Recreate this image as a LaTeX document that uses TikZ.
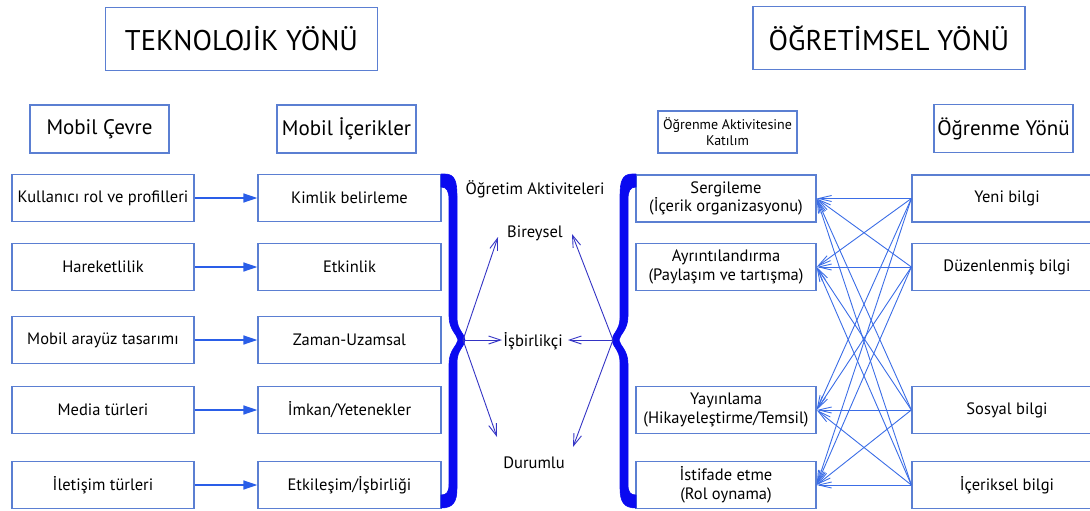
\documentclass[tikz,border=0pt]{standalone}
\usepackage{fontspec}
\setmainfont{PT Sans}
\usetikzlibrary{arrows.meta}
\definecolor{boxc}{HTML}{5B7FD2}
\definecolor{arrc}{HTML}{2A5EE8}
\definecolor{bracec}{HTML}{0A0AF0}
\definecolor{actc}{HTML}{3434C4}
\definecolor{linkc}{HTML}{3B6DE6}
\tikzset{
  box/.style={draw=boxc, line width=1.3pt, inner sep=0pt, align=center, minimum height=47pt, font=\fontsize{16.5}{18.5}\selectfont},
  head/.style={box, minimum height=48pt, minimum width=139pt, font=\fontsize{21}{23}\selectfont},
  title/.style={box, minimum height=63pt, minimum width=272pt, font=\fontsize{28.5}{30}\selectfont},
  lbl/.style={inner sep=0pt, font=\fontsize{16.5}{18}\selectfont},
  feed/.style={-{Triangle[length=14pt,width=9pt]}, arrc, line width=1.6pt},
  brc/.style={fill=bracec, draw=bracec, line width=0.6pt, line join=round},
  act/.style={-{Straight Barb[length=12pt,width=8pt]}, actc, line width=0.9pt},
  link/.style={-{Straight Barb[length=13pt,width=6pt]}, linkc, line width=0.9pt}
}
\newcommand{\mybracepath}{(441,174) -- (445,174) .. controls (455,174) and (457,182) .. (457,196) -- (457,318) .. controls (457,330) and (465,334) .. (465,340) .. controls (465,346) and (457,350) .. (457,362) -- (457,488) .. controls (457,502) and (453,508) .. (441,508) -- (441,495) .. controls (447,495) and (449,492) .. (449,484) -- (449,364) .. controls (449,350) and (457,346) .. (458,340) .. controls (457,334) and (449,330) .. (449,316) -- (449,200) .. controls (449,191) and (447,187) .. (441,187) -- cycle}
\begin{document}
\begin{tikzpicture}[x=1pt,y=-1pt]
\useasboundingbox (0,0) rectangle (1090,511);
% titles
\node[title] (tek) at (241.5,39) {TEKNOLOJİK YÖNÜ};
\node[title] (ogr) at (889,38) {ÖĞRETİMSEL YÖNÜ};
% headers
\node[head] (mc) at (99.5,129) {Mobil Çevre};
\node[head] (mi) at (346.5,129) {Mobil İçerikler};
\node[head, minimum height=42pt, font=\fontsize{14}{16}\selectfont] (oak) at (727.5,132) {Öğrenme Aktivitesine\\Katılım};
\node[head] (oy) at (1003.5,128.5) {Öğrenme Yönü};
% left column
\node[box, minimum width=182pt] (a1) at (103,198) {Kullanıcı rol ve profilleri};
\node[box, minimum width=182pt] (a2) at (103,267) {Hareketlilik};
\node[box, minimum width=182pt] (a3) at (103,340) {Mobil arayüz tasarımı};
\node[box, minimum width=182pt] (a4) at (103,410) {Media türleri};
\node[box, minimum width=182pt] (a5) at (103,485) {İletişim türleri};
% second column
\node[box, minimum width=183pt] (b1) at (349.5,198) {Kimlik belirleme};
\node[box, minimum width=183pt] (b2) at (349.5,267) {Etkinlik};
\node[box, minimum width=183pt] (b3) at (349.5,340) {Zaman-Uzamsal};
\node[box, minimum width=183pt] (b4) at (349.5,410) {İmkan/Yetenekler};
\node[box, minimum width=183pt] (b5) at (349.5,485) {Etkileşim/İşbirliği};
% right column 1
\node[box, minimum width=180pt] (c1) at (726,198.5) {Sergileme\\(İçerik organizasyonu)};
\node[box, minimum width=180pt] (c2) at (726,267) {Ayrıntılandırma\\(Paylaşım ve tartışma)};
\node[box, minimum width=180pt] (c3) at (726,410) {Yayınlama\\(Hikayeleştirme/Temsil)};
\node[box, minimum width=180pt] (c4) at (726,485) {İstifade etme\\(Rol oynama)};
% right column 2
\node[box, minimum width=190pt] (d1) at (1007,198.5) {Yeni bilgi};
\node[box, minimum width=190pt] (d2) at (1007,267) {Düzenlenmiş bilgi};
\node[box, minimum width=190pt] (d3) at (1007,410) {Sosyal bilgi};
\node[box, minimum width=190pt] (d4) at (1007,485) {İçeriksel bilgi};
% feed arrows
\foreach \i in {1,...,5} \draw[feed] (a\i) -- (b\i);
% activity labels
\node[lbl] (oa) at (535,189) {Öğretim Aktiviteleri};
\node[lbl] (bir) at (535,233) {Bireysel};
\node[lbl] (isb) at (533,341) {İşbirlikçi};
\node[lbl] (dur) at (534,463) {Durumlu};
% braces
\path[brc] \mybracepath;
\begin{scope}[xshift=1077pt, xscale=-1]
\path[brc] \mybracepath;
\end{scope}
\coordinate (lt) at (463,340);
\coordinate (rt) at (613,340);
\coordinate (bl) at (498,237);
\coordinate (il) at (502,340);
\coordinate (dl) at (497,437);
\coordinate (br) at (572,234);
\coordinate (ir) at (568,340);
\coordinate (dr) at (573,447);
\draw[act] (lt) -- (bl);
\draw[act] (lt) -- (il);
\draw[act] (lt) -- (dl);
\draw[act] (rt) -- (br);
\draw[act] (rt) -- (ir);
\draw[act] (rt) -- (dr);
% links
\foreach \i in {1,...,4}
  \foreach \j in {1,...,4}
    \draw[link] (d\i.west) -- (c\j.east);
\end{tikzpicture}
\end{document}
